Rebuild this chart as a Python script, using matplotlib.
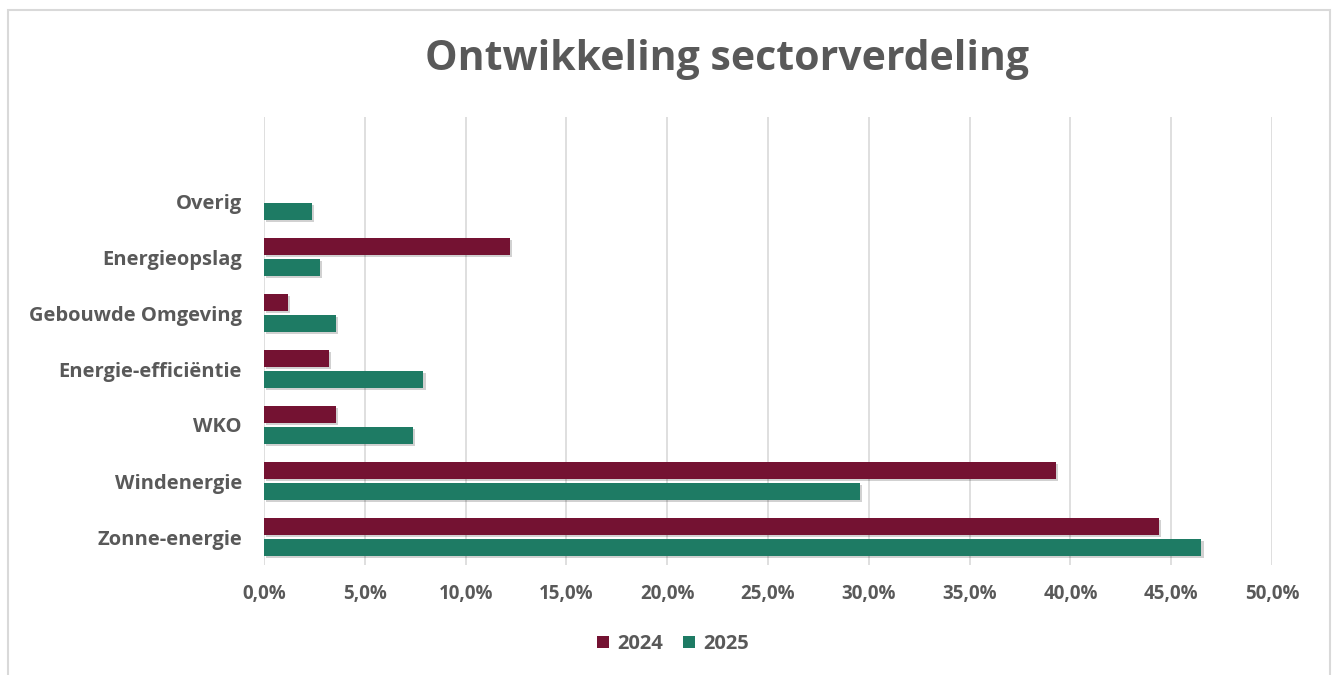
import matplotlib
matplotlib.use("Agg")
import matplotlib.pyplot as plt
import matplotlib.patheffects as pe
from matplotlib.ticker import FuncFormatter, MultipleLocator
import numpy as np

plt.rcParams['font.family'] = ['Open Sans', 'DejaVu Sans']

categories = ["Zonne-energie", "Windenergie", "WKO", "Energie-efficiëntie",
              "Gebouwde Omgeving", "Energieopslag", "Overig"]
values_2024 = [44.4, 39.3, 3.57, 3.22, 1.18, 12.2, 0.0]
values_2025 = [46.5, 29.55, 7.41, 7.91, 3.55, 2.77, 2.36]
series_labels = ["2024", "2025"]
colors = ["#741232", "#1E7B64"]
text_color = "#595959"

fig = plt.figure(figsize=(13.36, 6.75), dpi=100)
ax = fig.add_axes([264/1336, 1-565/675, (1272-264)/1336, (565-117)/675])

y = np.arange(len(categories))
h = 0.30
off = 0.1875
shadow = [pe.SimplePatchShadow(offset=(1.5, -1.5), shadow_rgbFace='black', alpha=0.18), pe.Normal()]
b1 = ax.barh(y + off, values_2024, height=h, color=colors[0], label=series_labels[0], zorder=3)
b2 = ax.barh(y - off, values_2025, height=h, color=colors[1], label=series_labels[1], zorder=3)
for bars in (b1, b2):
    for p in bars:
        p.set_path_effects(shadow)

ax.set_xlim(0, 50)
ax.set_ylim(-0.5, len(categories) + 0.5)
ax.xaxis.set_major_locator(MultipleLocator(5))
ax.xaxis.set_major_formatter(FuncFormatter(lambda v, p: f"{v:.1f}%".replace('.', ',')))
ax.set_yticks(y)
ax.set_yticklabels(categories)
ax.grid(axis='x', color='#d9d9d9', linewidth=1.2, zorder=0)
ax.set_axisbelow(True)
for s in ax.spines.values():
    s.set_visible(False)
ax.tick_params(axis='x', length=0, colors=text_color, labelsize=13.5, pad=14)
ax.tick_params(axis='y', length=0, colors=text_color, labelsize=14.5, pad=16)
for lab in ax.get_xticklabels() + ax.get_yticklabels():
    lab.set_fontweight('bold')
    lab.set_color(text_color)

fig.text(727/1336, 1-60/675, "Ontwikkeling sectorverdeling", ha='center', va='center',
         fontsize=29.5, fontweight='bold', color=text_color)

leg = fig.legend(handles=[b1, b2], labels=series_labels, loc='center',
                 bbox_to_anchor=(673/1336, 1-644/675), ncol=2, frameon=False,
                 prop={'size': 14.5, 'weight': 'bold'}, handlelength=0.6, handleheight=0.6,
                 handletextpad=0.4, columnspacing=1.0)
for t in leg.get_texts():
    t.set_color(text_color)
for hnd in leg.legend_handles:
    hnd.set_path_effects([])

border = plt.Rectangle((8/1336, -0.01), (1330-8)/1336, 1 - 10/675 + 0.01, transform=fig.transFigure,
                       fill=False, edgecolor='#d9d9d9', linewidth=1.5)
fig.patches.append(border)

fig.savefig("out.png", dpi=100, facecolor='white')
